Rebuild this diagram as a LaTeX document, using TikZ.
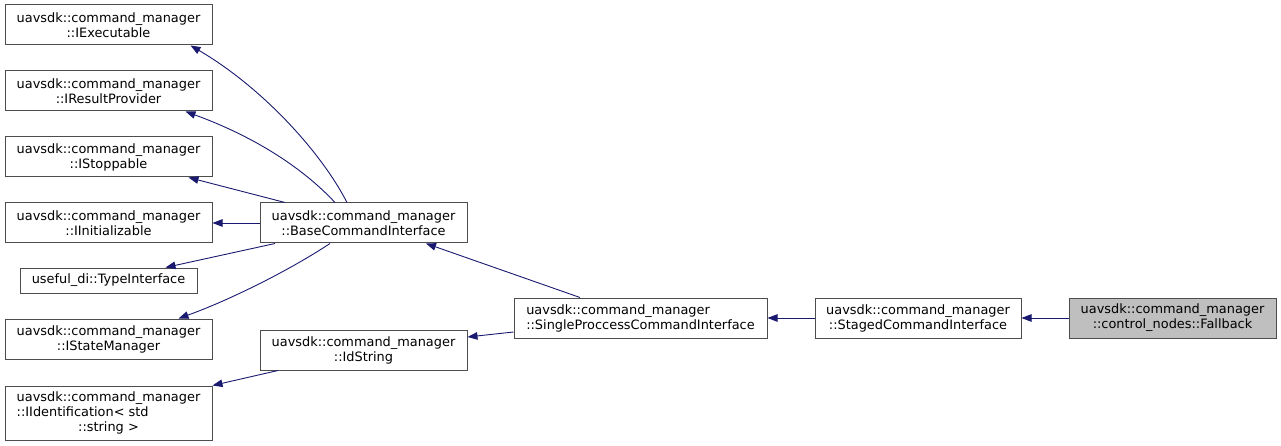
\documentclass[tikz,border=0pt]{standalone}
\usepackage{fontspec}
\setmainfont{DejaVu Sans}
\usetikzlibrary{arrows.meta}
\definecolor{edgeblue}{HTML}{191970}
\definecolor{boxline}{HTML}{4D4D4D}
\definecolor{boxfill}{HTML}{BFBFBF}
\begin{document}
\begin{tikzpicture}[x=1pt,y=-1pt,
  cls/.style={draw=boxline,line width=1pt,fill=white,inner sep=0pt,minimum width=207pt,minimum height=40pt,align=center,
    font=\fontsize{12.9}{15}\selectfont},
  inh/.style={draw=edgeblue,line width=0.9pt,-{Triangle[length=10pt,width=7.5pt]}}]
\useasboundingbox (0,0) rectangle (1281,446);
\node[cls] (exe) at (108.5,25) {uavsdk::command\_manager\\::IExecutable};
\node[cls] (res) at (108.5,91) {uavsdk::command\_manager\\::IResultProvider};
\node[cls] (stop) at (108.5,157) {uavsdk::command\_manager\\::IStoppable};
\node[cls] (init) at (108.5,223) {uavsdk::command\_manager\\::IInitializable};
\node[cls,minimum width=177pt,minimum height=25pt] (type) at (108.5,280.5) {useful\_di::TypeInterface};
\node[cls] (state) at (108.5,339) {uavsdk::command\_manager\\::IStateManager};
\node[cls,minimum height=54pt] (ident) at (108.5,413) {\renewcommand\arraystretch{1}\begin{tabular}{@{}l@{}}uavsdk::command\_manager\\::IIdentification< std\\\multicolumn{1}{@{}c@{}}{::string >}\end{tabular}};
\node[cls] (base) at (363.5,223) {uavsdk::command\_manager\\::BaseCommandInterface};
\node[cls] (idstr) at (363.5,350) {uavsdk::command\_manager\\::IdString};
\node[cls,minimum width=253pt,align=left] (single) at (640.5,318) {uavsdk::command\_manager\\::SingleProccessCommandInterface};
\node[cls,minimum width=206pt] (staged) at (918,318) {uavsdk::command\_manager\\::StagedCommandInterface};
\node[cls,fill=boxfill] (fall) at (1172.5,318) {uavsdk::command\_manager\\::control\_nodes::Fallback};

\draw[inh] ([xshift=-16.5pt]base.north) .. controls (320,150) and (260,86) .. ([xshift=-22pt]exe.south east);
\draw[inh] ([xshift=-28.5pt]base.north) .. controls (300,165) and (250,135) .. ([xshift=-27pt]res.south east);
\draw[inh] ([xshift=-78.5pt]base.north) -- ([xshift=-24pt]stop.south east);
\draw[inh] (base.west) -- (init.east);
\draw[inh] ([xshift=-88.5pt]base.south) -- ([xshift=-32pt]type.north east);
\draw[inh] ([xshift=-33.5pt]base.south) .. controls (290,270) and (230,300) .. ([xshift=-34pt]state.north east);
\draw[inh] ([xshift=-60.5pt]single.north) -- ([xshift=62.5pt]base.south);
\draw[inh] ([yshift=-14pt]single.west) -- ([yshift=13pt]idstr.east);
\draw[inh] ([xshift=-85.5pt]idstr.south) -- (ident.north east);
\draw[inh] (staged.west) -- (single.east);
\draw[inh] (fall.west) -- (staged.east);
\end{tikzpicture}
\end{document}
